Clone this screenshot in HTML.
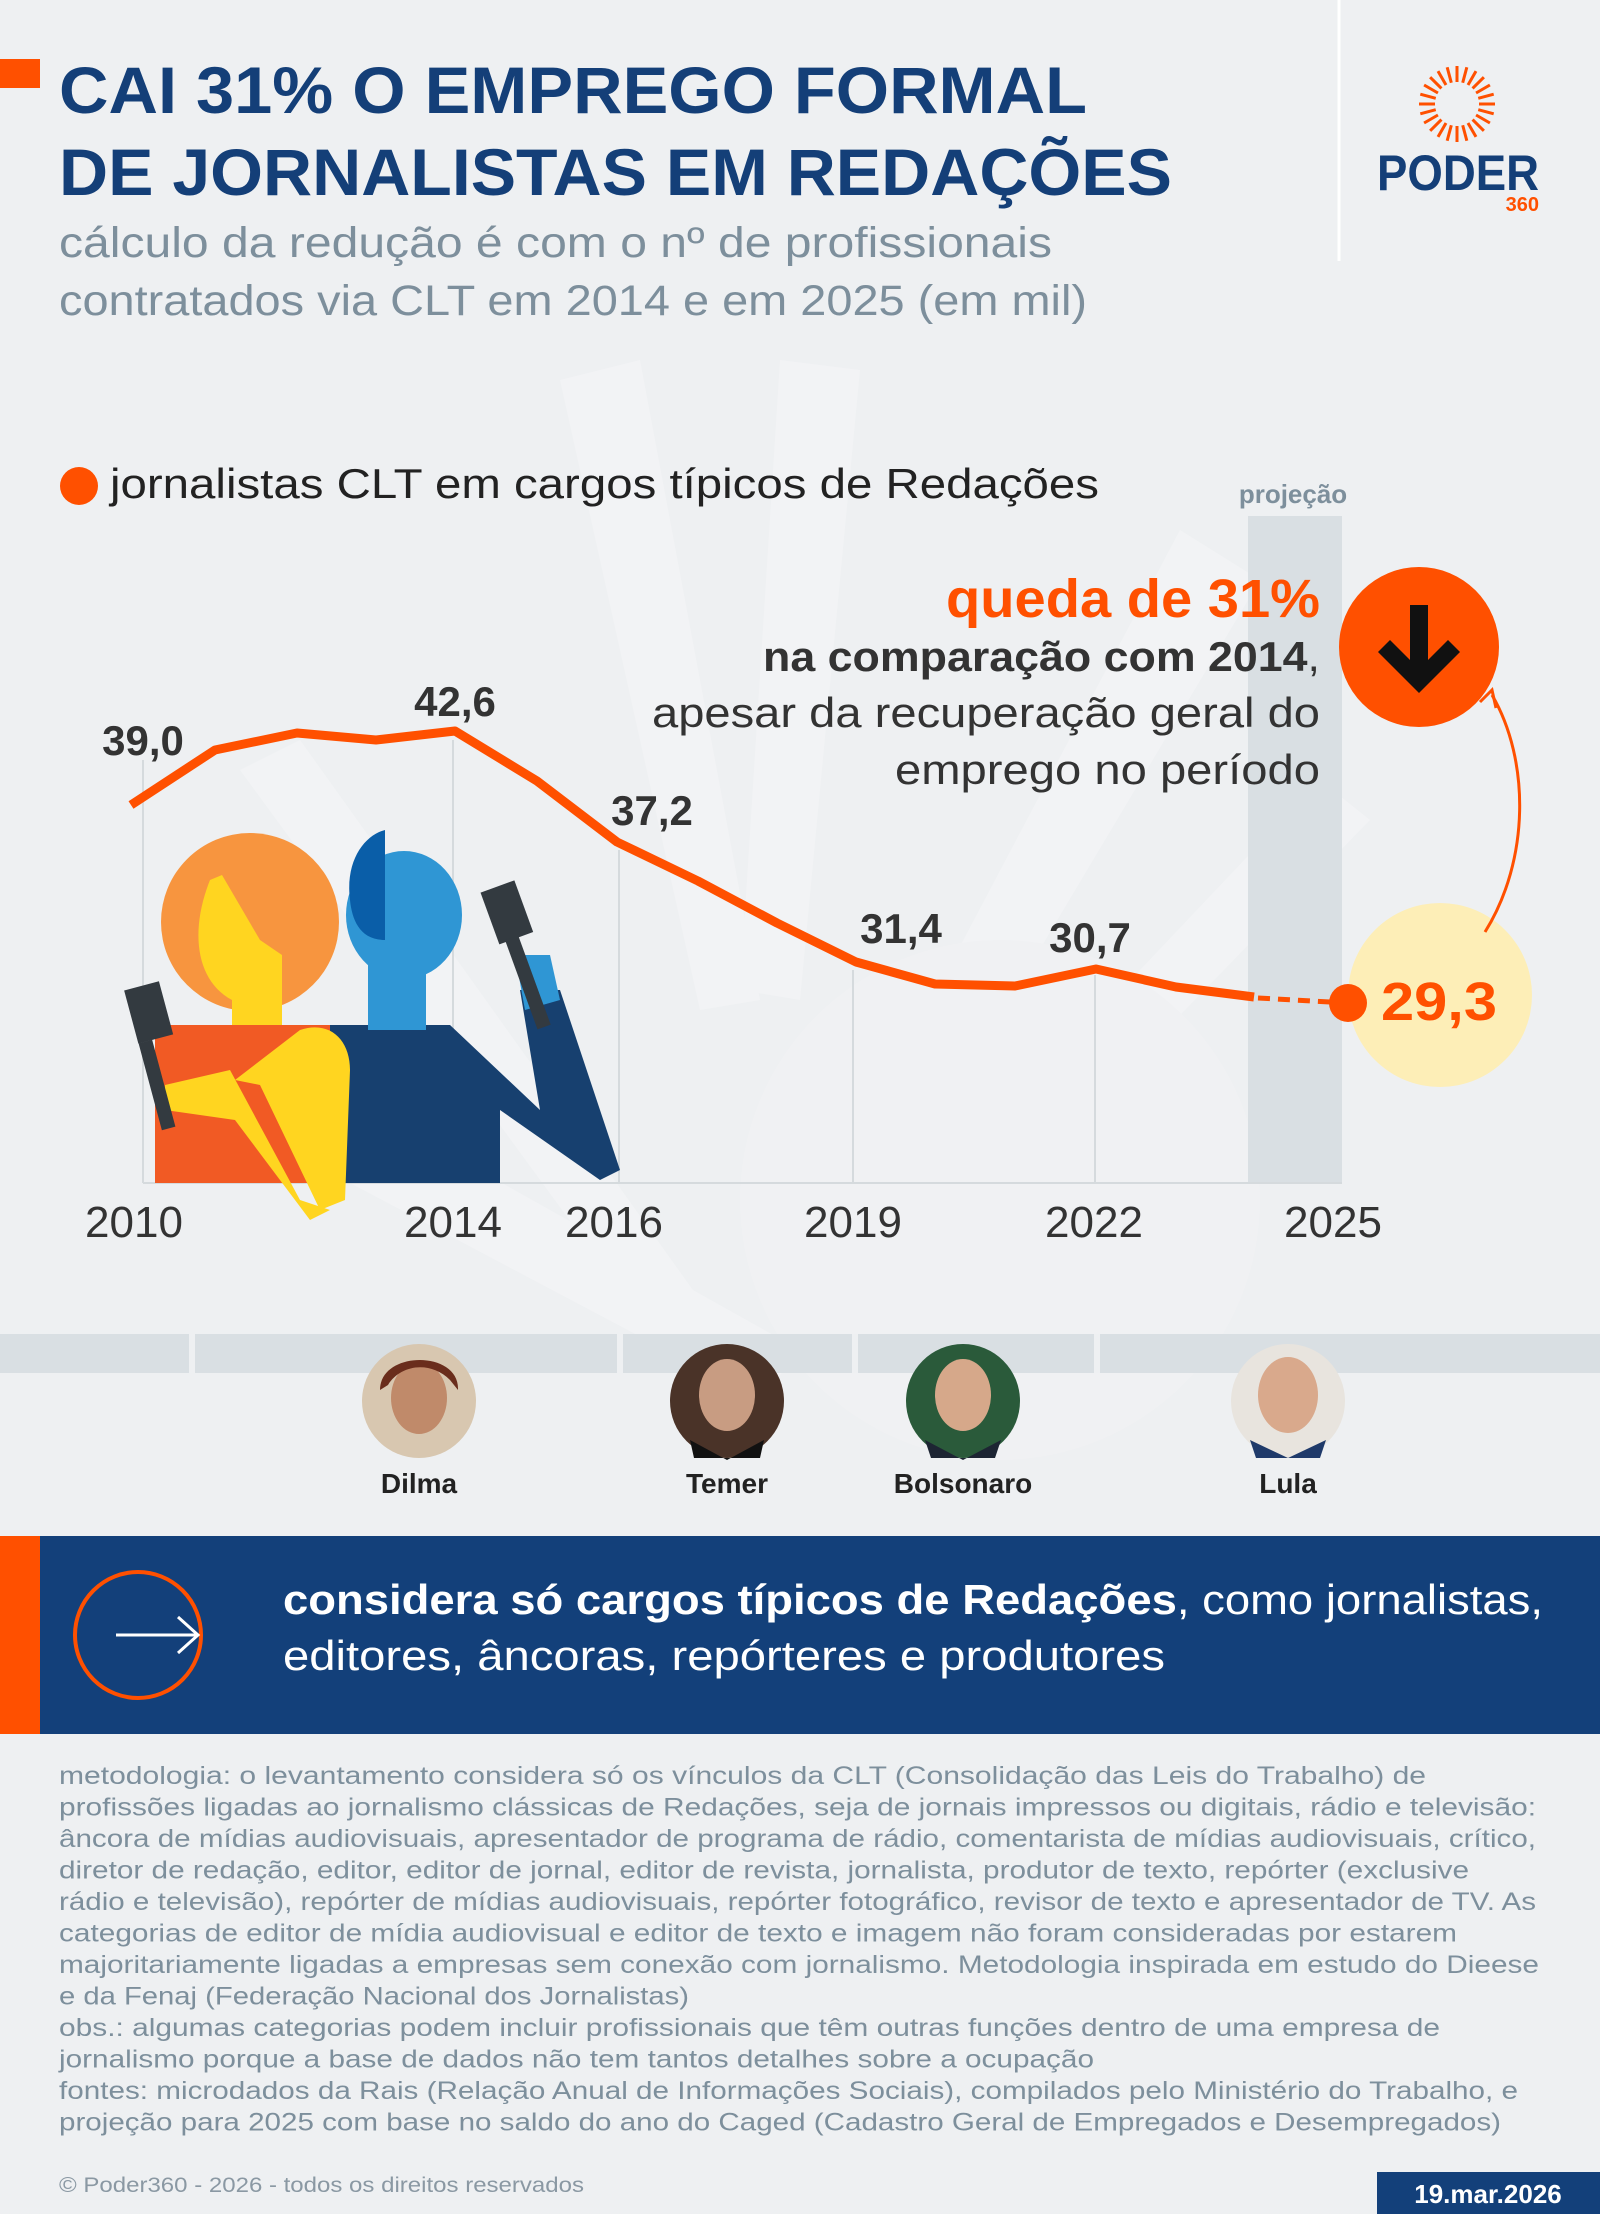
<!DOCTYPE html>
<html><head><meta charset="utf-8"><style>
html,body{margin:0;padding:0;background:#eef0f2}
svg{display:block}
text{font-family:"Liberation Sans",sans-serif}
</style></head><body>
<svg width="1600" height="2214" viewBox="0 0 1600 2214" xmlns="http://www.w3.org/2000/svg">
<rect width="1600" height="2214" fill="#eef0f2"/>
<!-- faint rays -->
<g fill="#f2f3f5">
<polygon points="560,380 640,360 760,1000 700,1010"/>
<polygon points="780,360 860,370 800,1000 740,990"/>
<polygon points="1180,530 1260,580 950,1100 900,1060"/>
<polygon points="250,1130 300,1070 800,1350 760,1400"/>
<polygon points="240,770 300,740 700,1300 650,1330"/>
<polygon points="1320,780 1370,820 1000,1200 960,1160"/>
<circle cx="1000" cy="1200" r="260" fill="#f0f1f3"/>
</g>
<!-- header -->
<rect x="0" y="59" width="40" height="29" fill="#ff5000"/>
<text x="59" y="113" font-size="66" font-weight="bold" fill="#143f78" textLength="1028" lengthAdjust="spacingAndGlyphs">CAI 31% O EMPREGO FORMAL</text>
<text x="59" y="195" font-size="66" font-weight="bold" fill="#143f78" textLength="1113" lengthAdjust="spacingAndGlyphs">DE JORNALISTAS EM REDAÇÕES</text>
<text x="59" y="257" font-size="43" fill="#7d8f9c" textLength="993" lengthAdjust="spacingAndGlyphs">cálculo da redução é com o nº de profissionais</text>
<text x="59" y="315" font-size="43" fill="#7d8f9c" textLength="1028" lengthAdjust="spacingAndGlyphs">contratados via CLT em 2014 e em 2025 (em mil)</text>
<line x1="1339" y1="0" x2="1339" y2="261" stroke="#ffffff" stroke-width="3"/>
<g transform="translate(1457,104)" stroke="#ff5000" stroke-width="3">
<g id="r"><line x1="0" y1="-22" x2="0" y2="-38"/><line x1="0" y1="-22" x2="0" y2="-38" transform="rotate(15)"/><line x1="0" y1="-22" x2="0" y2="-38" transform="rotate(30)"/><line x1="0" y1="-22" x2="0" y2="-38" transform="rotate(45)"/><line x1="0" y1="-22" x2="0" y2="-38" transform="rotate(60)"/><line x1="0" y1="-22" x2="0" y2="-38" transform="rotate(75)"/></g>
<use href="#r" transform="rotate(90)"/><use href="#r" transform="rotate(180)"/><use href="#r" transform="rotate(270)"/>
</g>
<text x="1377" y="190" font-size="50" font-weight="bold" fill="#143f78" textLength="162" lengthAdjust="spacingAndGlyphs">PODER</text>
<text x="1539" y="211" font-size="20" font-weight="bold" fill="#ff5000" text-anchor="end">360</text>
<!-- legend -->
<circle cx="79" cy="486" r="19" fill="#ff5000"/>
<text x="110" y="498" font-size="42" fill="#222" textLength="989" lengthAdjust="spacingAndGlyphs">jornalistas CLT em cargos típicos de Redações</text>
<text x="1293" y="503" font-size="26" font-weight="bold" fill="#7d8f9c" text-anchor="middle">projeção</text>
<rect x="1248" y="516" width="94" height="667" fill="#d9dfe3"/>
<!-- gridlines -->
<g stroke="#d5dadd" stroke-width="2">
<line x1="143" y1="760" x2="143" y2="1183"/><line x1="453" y1="740" x2="453" y2="1183"/>
<line x1="619" y1="850" x2="619" y2="1183"/><line x1="853" y1="970" x2="853" y2="1183"/>
<line x1="1095" y1="975" x2="1095" y2="1183"/>
<line x1="143" y1="1183" x2="1342" y2="1183"/>
</g>
<!-- illustration -->
<circle cx="250" cy="922" r="89" fill="#f7953f"/>
<path d="M222,875 L260,940 L282,955 L282,1040 L232,1085 L232,1000 C195,980 190,930 210,880 Z" fill="#ffd520"/>
<path d="M155,1025 L350,1025 L350,1183 L155,1183 Z" fill="#f15a24"/>
<path d="M330,1025 L450,1025 L540,1110 L520,990 L560,990 L620,1170 L600,1180 L500,1110 L500,1183 L330,1183 Z" fill="#17406f"/>
<ellipse cx="404" cy="915" rx="58" ry="64" fill="#2f96d4"/>
<path d="M350,900 C345,860 365,835 385,830 L385,940 C360,940 352,920 350,900 Z" fill="#0a5ea8"/>
<rect x="368" y="960" width="58" height="70" fill="#2f96d4"/>
<path d="M515,955 L550,955 L560,1000 L525,1010 Z" fill="#2f96d4"/>
<path d="M300,1030 C330,1020 350,1040 350,1070 L345,1200 L320,1210 L260,1085 L235,1080 Z" fill="#ffd520"/>
<path d="M165,1085 L230,1070 L300,1200 L330,1210 L310,1220 L235,1120 L165,1110 Z" fill="#ffd520"/>
<g fill="#333a40"><rect x="130" y="985" width="36" height="55" transform="rotate(-15 148 1010)"/><rect x="150" y="1040" width="14" height="90" transform="rotate(-15 157 1085)"/>
<rect x="488" y="885" width="36" height="55" transform="rotate(-20 506 910)"/><rect x="520" y="935" width="14" height="95" transform="rotate(-20 527 980)"/></g>
<!-- line -->
<polyline points="131,805 215,750 297,733 376,740 455,731 537,781 617,842 698,881 777,923 856,962 935,984 1015,986 1096,969 1176,987 1254,997" fill="none" stroke="#ff5000" stroke-width="9" stroke-linejoin="round"/>
<line x1="1258" y1="998" x2="1330" y2="1002" stroke="#ff5000" stroke-width="5" stroke-dasharray="12,8"/>
<circle cx="1440" cy="995" r="92" fill="#fdeeb7"/>
<circle cx="1348" cy="1003" r="19" fill="#ff5000"/>
<text x="1381" y="1020" font-size="54" font-weight="bold" fill="#ff5000" textLength="116" lengthAdjust="spacingAndGlyphs">29,3</text>
<g font-size="42" font-weight="bold" fill="#333" text-anchor="middle">
<text x="143" y="755">39,0</text><text x="455" y="716">42,6</text><text x="652" y="825">37,2</text>
<text x="901" y="943">31,4</text><text x="1090" y="952">30,7</text></g>
<g font-size="44" fill="#333" text-anchor="middle">
<text x="134" y="1237">2010</text><text x="453" y="1237">2014</text><text x="614" y="1237">2016</text>
<text x="853" y="1237">2019</text><text x="1094" y="1237">2022</text><text x="1333" y="1237">2025</text></g>
<!-- annotation -->
<text x="946" y="617" font-size="54" font-weight="bold" fill="#ff5000" textLength="374" lengthAdjust="spacingAndGlyphs">queda de 31%</text>
<text x="763" y="671" font-size="42" fill="#333" textLength="557" lengthAdjust="spacingAndGlyphs"><tspan font-weight="bold">na comparação com 2014</tspan>,</text>
<text x="652" y="727" font-size="42" fill="#333" textLength="668" lengthAdjust="spacingAndGlyphs">apesar da recuperação geral do</text>
<text x="895" y="784" font-size="42" fill="#333" textLength="425" lengthAdjust="spacingAndGlyphs">emprego no período</text>
<circle cx="1419" cy="647" r="80" fill="#ff5000"/>
<path d="M1410,605 L1428,605 L1428,660 L1448,640 L1460,652 L1419,693 L1378,652 L1390,640 L1410,660 Z" fill="#111"/>
<path d="M1485,932 C1530,860 1530,760 1492,695" fill="none" stroke="#ff5000" stroke-width="3"/>
<path d="M1480,702 L1492,690 L1496,708" fill="none" stroke="#ff5000" stroke-width="3"/>
<!-- presidents band -->
<rect x="0" y="1334" width="1600" height="39" fill="#d9dfe3"/>
<g fill="#eef0f2"><rect x="189" y="1334" width="6" height="39"/><rect x="617" y="1334" width="6" height="39"/><rect x="852" y="1334" width="6" height="39"/><rect x="1094" y="1334" width="6" height="39"/></g>
<g>
<circle cx="419" cy="1401" r="57" fill="#d8c7b0"/><ellipse cx="419" cy="1398" rx="28" ry="36" fill="#c08a6a"/><path d="M380,1390 C380,1350 460,1350 458,1390 L450,1380 C430,1360 400,1365 388,1385Z" fill="#6a2d1c"/>
<circle cx="727" cy="1401" r="57" fill="#4a3328"/><ellipse cx="727" cy="1395" rx="28" ry="36" fill="#c89c82"/><path d="M690,1440 L727,1460 L764,1440 L760,1458 L694,1458Z" fill="#111"/>
<circle cx="963" cy="1401" r="57" fill="#2a5a3a"/><ellipse cx="963" cy="1395" rx="28" ry="36" fill="#d6a88a"/><path d="M925,1440 L963,1460 L1001,1440 L995,1458 L931,1458Z" fill="#1d2533"/>
<circle cx="1288" cy="1401" r="57" fill="#e8e4de"/><ellipse cx="1288" cy="1395" rx="30" ry="38" fill="#d9a98c"/><path d="M1250,1440 L1288,1458 L1326,1440 L1320,1458 L1256,1458Z" fill="#1f3a6a"/>
</g>
<g font-size="28" font-weight="bold" fill="#222" text-anchor="middle">
<text x="419" y="1493">Dilma</text><text x="727" y="1493">Temer</text><text x="963" y="1493">Bolsonaro</text><text x="1288" y="1493">Lula</text></g>
<!-- blue box -->
<rect x="0" y="1536" width="1600" height="198" fill="#13407a"/>
<rect x="0" y="1536" width="40" height="198" fill="#ff5000"/>
<circle cx="138" cy="1635" r="63" fill="none" stroke="#ff5000" stroke-width="4"/>
<line x1="116" y1="1635" x2="198" y2="1635" stroke="#fff" stroke-width="3"/>
<path d="M178,1617 L198,1635 L178,1653" fill="none" stroke="#fff" stroke-width="3"/>
<text x="283" y="1614" font-size="42" fill="#fff" textLength="1260" lengthAdjust="spacingAndGlyphs"><tspan font-weight="bold">considera só cargos típicos de Redações</tspan>, como jornalistas,</text>
<text x="283" y="1670" font-size="42" fill="#fff" textLength="882" lengthAdjust="spacingAndGlyphs">editores, âncoras, repórteres e produtores</text>
<!-- methodology -->
<g font-size="25" fill="#7d8f9c">
<text x="59" y="1784" textLength="1367" lengthAdjust="spacingAndGlyphs">metodologia: o levantamento considera só os vínculos da CLT (Consolidação das Leis do Trabalho) de</text>
<text x="59" y="1815.5" textLength="1477" lengthAdjust="spacingAndGlyphs">profissões ligadas ao jornalismo clássicas de Redações, seja de jornais impressos ou digitais, rádio e televisão:</text>
<text x="59" y="1847" textLength="1477" lengthAdjust="spacingAndGlyphs">âncora de mídias audiovisuais, apresentador de programa de rádio, comentarista de mídias audiovisuais, crítico,</text>
<text x="59" y="1878.5" textLength="1410" lengthAdjust="spacingAndGlyphs">diretor de redação, editor, editor de jornal, editor de revista, jornalista, produtor de texto, repórter (exclusive</text>
<text x="59" y="1910" textLength="1477" lengthAdjust="spacingAndGlyphs">rádio e televisão), repórter de mídias audiovisuais, repórter fotográfico, revisor de texto e apresentador de TV. As</text>
<text x="59" y="1941.5" textLength="1398" lengthAdjust="spacingAndGlyphs">categorias de editor de mídia audiovisual e editor de texto e imagem não foram consideradas por estarem</text>
<text x="59" y="1973" textLength="1480" lengthAdjust="spacingAndGlyphs">majoritariamente ligadas a empresas sem conexão com jornalismo. Metodologia inspirada em estudo do Dieese</text>
<text x="59" y="2004.5" textLength="630" lengthAdjust="spacingAndGlyphs">e da Fenaj (Federação Nacional dos Jornalistas)</text>
<text x="59" y="2036" textLength="1381" lengthAdjust="spacingAndGlyphs">obs.: algumas categorias podem incluir profissionais que têm outras funções dentro de uma empresa de</text>
<text x="59" y="2067.5" textLength="1035" lengthAdjust="spacingAndGlyphs">jornalismo porque a base de dados não tem tantos detalhes sobre a ocupação</text>
<text x="59" y="2099" textLength="1459" lengthAdjust="spacingAndGlyphs">fontes: microdados da Rais (Relação Anual de Informações Sociais), compilados pelo Ministério do Trabalho, e</text>
<text x="59" y="2130.5" textLength="1442" lengthAdjust="spacingAndGlyphs">projeção para 2025 com base no saldo do ano do Caged (Cadastro Geral de Empregados e Desempregados)</text>
</g>
<text x="59" y="2192" font-size="21" fill="#8a98a3" textLength="525" lengthAdjust="spacingAndGlyphs">© Poder360 - 2026 - todos os direitos reservados</text>
<rect x="1377" y="2172" width="223" height="42" fill="#13407a"/>
<text x="1488" y="2203" font-size="26" font-weight="bold" fill="#fff" text-anchor="middle">19.mar.2026</text>
</svg>
</body></html>
